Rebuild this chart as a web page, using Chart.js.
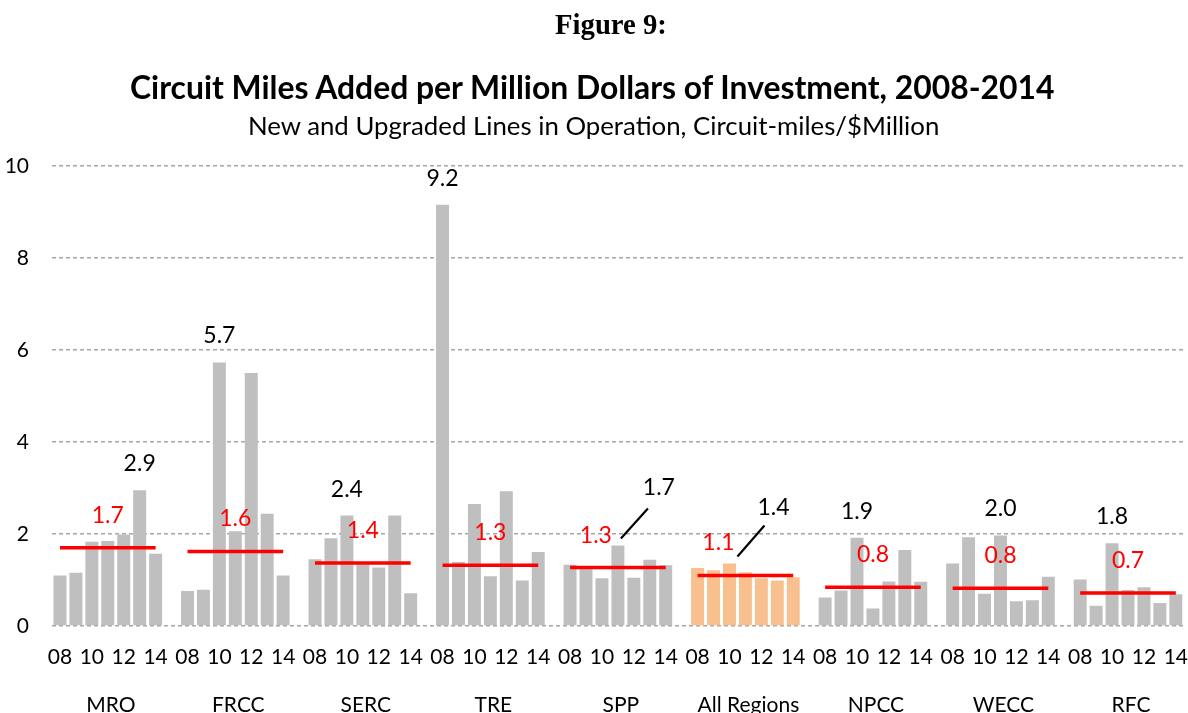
<!DOCTYPE html>
<html>
<head>
<meta charset="utf-8">
<script src="https://cdn.jsdelivr.net/npm/chart.js@4.4.1/dist/chart.umd.min.js"></script>
<style>
  html, body { margin: 0; padding: 0; background: #ffffff; overflow: hidden; }
  #wrap { position: relative; width: 1188px; height: 713px; }
  #wrap canvas { position: absolute; left: 0; top: 0; }
  .t { position: absolute; left: 0; top: 0; white-space: nowrap; color: #000; line-height: 1; }
  #fig { font-family: "Liberation Serif", "DejaVu Serif", serif; font-weight: bold; }
  #title { font-family: Lato, "Open Sans", sans-serif; font-weight: bold; }
  #sub { font-family: Lato, "Open Sans", sans-serif; font-weight: normal; }
</style>
</head>
<body>
<div id="wrap">
  <canvas id="chart" width="1188" height="713"></canvas>
  <div id="fig" class="t">Figure 9:</div>
  <div id="title" class="t">Circuit Miles Added per Million Dollars of Investment, 2008-2014</div>
  <div id="sub" class="t">New and Upgraded Lines in Operation, Circuit-miles/$Million</div>
</div>
<script>
// ---------------- DATA ----------------
const regions = ['MRO', 'FRCC', 'SERC', 'TRE', 'SPP', 'All Regions', 'NPCC', 'WECC', 'RFC'];
const years = ['2008', '2009', '2010', '2011', '2012', '2013', '2014'];
const yearTickLabels = ['08', '', '10', '', '12', '', '14'];

const mro        = [1.10, 1.16, 1.83, 1.85, 1.99, 2.95, 1.57];
const frcc       = [0.76, 0.79, 5.73, 2.06, 5.50, 2.44, 1.10];
const serc       = [1.45, 1.91, 2.40, 1.37, 1.27, 2.40, 0.71];
const tre        = [9.16, 1.39, 2.65, 1.08, 2.93, 0.99, 1.61];
const spp        = [1.33, 1.29, 1.04, 1.75, 1.05, 1.44, 1.32];
const allRegions = [1.26, 1.21, 1.36, 1.17, 1.04, 0.99, 1.06];
const npcc       = [0.62, 0.77, 1.92, 0.38, 0.97, 1.65, 0.96];
const wecc       = [1.36, 1.93, 0.70, 1.97, 0.54, 0.56, 1.07];
const rfc        = [1.01, 0.44, 1.80, 0.78, 0.84, 0.50, 0.69];

const averages      = [1.70, 1.62, 1.37, 1.32, 1.27, 1.10, 0.84, 0.82, 0.72];
const peakLabels    = ['2.9', '5.7', '2.4', '9.2', '1.7', '1.4', '1.9', '2.0', '1.8'];
const peakYearIndex = [5, 2, 2, 0, 3, 2, 2, 3, 2];
const yTicks = [0, 2, 4, 6, 8, 10];

// ---------------- BUILD ----------------
const series = [mro, frcc, serc, tre, spp, allRegions, npcc, wecc, rfc];
const labels = [], barData = [], avgData = [], barColors = [], yearText = [], groupText = [];
const groupStart = [];
series.forEach((vals, g) => {
  groupStart.push(labels.length);
  vals.forEach((v, i) => {
    labels.push(regions[g] + ' ' + years[i]);
    barData.push(v);
    avgData.push(averages[g]);
    barColors.push(regions[g] === 'All Regions' ? '#f8c08f' : '#bfbfbf');
    yearText.push(yearTickLabels[i]);
    groupText.push(i === 3 ? regions[g] : '');
  });
  if (g < series.length - 1) {
    labels.push('');
    barData.push(null);
    avgData.push(null);
    barColors.push('#bfbfbf');
    yearText.push('');
    groupText.push('');
  }
});

// ---------------- TITLES (HTML text) ----------------
function fitText(id, text, font, targetW, cx, baseline, ascentRatio) {
  const el = document.getElementById(id);
  const ctx = document.createElement('canvas').getContext('2d');
  ctx.font = font.replace('SIZE', '100px');
  const w100 = ctx.measureText(text).width;
  const size = 100 * targetW / w100;
  el.style.fontSize = size + 'px';
  el.style.left = (cx - targetW / 2) + 'px';
  el.style.top = (baseline - size * ascentRatio) + 'px';
}
fitText('fig', 'Figure 9:', 'bold SIZE "Liberation Serif"', 112, 611, 34, 0.8375);
fitText('title', 'Circuit Miles Added per Million Dollars of Investment, 2008-2014', 'bold SIZE Lato', 927, 593.5, 100, 0.887);
fitText('sub', 'New and Upgraded Lines in Operation, Circuit-miles/$Million', 'SIZE Lato', 692, 594, 136, 0.887);

// ---------------- ANNOTATIONS ----------------
const FONT_FAMILY = 'Lato, "Open Sans", sans-serif';
const leaderStyle = {   // label positions relative to the bar top (px)
  4: { from: [3, -7], to: [30, -37], label: [41, -51] },
  5: { from: [8, -7], to: [35, -38], label: [44, -48] }
};
const avgLabelShift = { 4: -22, 5: -27 };

const annotationPlugin = {
  id: 'annotations',
  afterDatasetsDraw(chart) {
    const ctx = chart.ctx;
    const xs = chart.scales.x, ys = chart.scales.y;
    ctx.save();
    ctx.font = '23px ' + FONT_FAMILY;
    ctx.textAlign = 'center';
    ctx.textBaseline = 'alphabetic';
    series.forEach((vals, g) => {
      const pi = groupStart[g] + peakYearIndex[g];
      const px = xs.getPixelForValue(pi);
      const py = ys.getPixelForValue(vals[peakYearIndex[g]]);
      const ls = leaderStyle[g];
      ctx.fillStyle = '#000000';
      if (ls) {
        ctx.strokeStyle = '#000000';
        ctx.lineWidth = 2.2;
        ctx.beginPath();
        ctx.moveTo(px + ls.from[0], py + ls.from[1]);
        ctx.lineTo(px + ls.to[0], py + ls.to[1]);
        ctx.stroke();
        ctx.fillText(peakLabels[g], px + ls.label[0], py + ls.label[1]);
      } else {
        ctx.fillText(peakLabels[g], px, py - 19);
      }
      const ax = xs.getPixelForValue(groupStart[g] + 3) + (avgLabelShift[g] || 0);
      const ay = ys.getPixelForValue(averages[g]);
      ctx.fillStyle = '#ff0000';
      ctx.fillText(averages[g].toFixed(1), ax, ay - 25);
    });
    ctx.restore();
  }
};

// ---------------- CHART ----------------
new Chart(document.getElementById('chart'), {
  data: {
    labels: labels,
    datasets: [
      {
        type: 'line',
        label: 'Average',
        data: avgData,
        borderColor: '#ff0000',
        borderWidth: 3.5,
        pointRadius: 0,
        spanGaps: false,
        tension: 0,
        order: 1
      },
      {
        type: 'bar',
        label: 'Circuit-miles/$Million',
        data: barData,
        backgroundColor: barColors,
        borderWidth: 0,
        barPercentage: 0.8125,
        categoryPercentage: 1.0,
        order: 2
      }
    ]
  },
  options: {
    responsive: false,
    animation: false,
    devicePixelRatio: 1,
    layout: { padding: { top: 166, right: 0, bottom: 0, left: 0 } },
    plugins: {
      legend: { display: false },
      tooltip: { enabled: false },
      title: { display: false }
    },
    scales: {
      y: {
        min: 0,
        max: 10,
        afterBuildTicks(s) { s.ticks = yTicks.map(v => ({ value: v })); },
        afterFit(s) { s.width = 52; },
        grid: { color: '#a6a6a6', lineWidth: 1.5, drawTicks: false },
        border: { display: false, dash: [4, 3] },
        ticks: {
          color: '#000000',
          padding: 23,
          font: { family: FONT_FAMILY, size: 21 }
        }
      },
      x: {
        type: 'category',
        position: 'bottom',
        weight: 0,
        offset: true,
        afterFit(s) { s.height = 44; },
        grid: { display: false, drawTicks: true, tickLength: 19 },
        border: { display: false },
        ticks: {
          autoSkip: false,
          maxRotation: 0,
          minRotation: 0,
          padding: 0,
          color: '#000000',
          font: { family: FONT_FAMILY, size: 21 },
          callback: (v, i) => yearText[i]
        }
      },
      x2: {
        type: 'category',
        position: 'bottom',
        weight: 1,
        offset: true,
        afterFit(s) { s.height = 43; },
        grid: { display: false, drawTicks: true, tickLength: 23 },
        border: { display: false },
        ticks: {
          autoSkip: false,
          maxRotation: 0,
          minRotation: 0,
          padding: 0,
          labelOffset: 3,
          color: '#000000',
          font: { family: FONT_FAMILY, size: 21 },
          callback: (v, i) => groupText[i]
        }
      }
    }
  },
  plugins: [annotationPlugin]
});
</script>
</body>
</html>
